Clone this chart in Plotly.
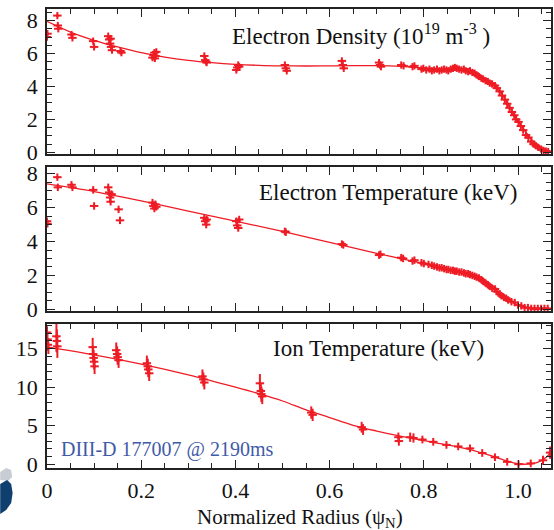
import plotly.graph_objects as go

# ---------------- data ----------------
# Electron density (10^19 m^-3)
ne_x = [0.000, 0.001, 0.022, 0.023, 0.024, 0.052, 0.054, 0.098, 0.100,
        0.130, 0.132, 0.134, 0.135, 0.136, 0.138, 0.156, 0.158,
        0.224, 0.226, 0.228, 0.229, 0.230, 0.232, 0.334, 0.336, 0.338, 0.339,
        0.402, 0.404, 0.406, 0.408, 0.505, 0.507, 0.509, 0.626, 0.628, 0.630,
        0.705, 0.707, 0.709, 0.752, 0.757, 0.776, 0.780, 0.795, 0.799,
        0.805, 0.812, 0.817, 0.822, 0.828, 0.833, 0.838, 0.843, 0.848, 0.852,
        0.857, 0.862, 0.866, 0.870, 0.875, 0.880, 0.885, 0.889, 0.894, 0.898,
        0.903, 0.908, 0.912, 0.917, 0.922, 0.926, 0.931, 0.936, 0.940, 0.945,
        0.951, 0.955, 0.961, 0.966, 0.972, 0.977, 0.982, 0.987, 0.992, 0.996,
        1.001, 1.006, 1.011, 1.017, 1.022, 1.028, 1.033, 1.038, 1.043, 1.049,
        1.054, 1.059, 1.064]
ne_y = [7.00, 7.20, 8.30, 7.70, 7.50, 7.15, 6.95, 6.75, 6.40,
        7.05, 6.85, 6.60, 6.90, 6.40, 6.20, 6.15, 6.05,
        5.75, 5.90, 6.05, 5.70, 5.85, 6.10, 5.85, 5.60, 5.50, 5.45,
        5.00, 5.15, 5.30, 5.20, 5.30, 5.10, 4.95, 5.55, 5.30, 5.10,
        5.45, 5.30, 5.20, 5.30, 5.25, 5.20, 5.25, 5.05, 5.10,
        5.00, 5.05, 4.95, 5.00, 5.05, 4.95, 5.00, 5.05, 5.00, 4.95,
        5.05, 5.10, 5.15, 5.10, 5.05, 5.00, 5.05, 4.95, 4.90, 4.95,
        4.85, 4.80, 4.70, 4.60, 4.50, 4.45, 4.35, 4.30, 4.20, 4.15,
        4.05, 3.90, 3.70, 3.45, 3.20, 2.95, 2.70, 2.45, 2.25, 2.00,
        1.85, 1.60, 1.35, 1.05, 0.90, 0.65, 0.50, 0.40, 0.30, 0.20,
        0.12, 0.08, 0.05]

ne_fit_x = [0.00, 0.05, 0.10, 0.15, 0.20, 0.25, 0.30, 0.35, 0.40, 0.45,
            0.50, 0.55, 0.60, 0.65, 0.70, 0.75, 0.80, 0.85, 0.90, 0.92,
            0.94, 0.96, 0.98, 1.00, 1.02, 1.04, 1.06, 1.07]
ne_fit_y = [7.95, 7.30, 6.80, 6.40, 6.05, 5.78, 5.58, 5.44, 5.34, 5.28,
            5.25, 5.24, 5.25, 5.26, 5.26, 5.22, 5.12, 5.05, 4.90, 4.65,
            4.30, 3.75, 2.85, 1.90, 1.10, 0.45, 0.12, 0.05]

# Electron temperature (keV)
te_x = [0.000, 0.001, 0.022, 0.023, 0.052, 0.054, 0.098, 0.100,
        0.130, 0.132, 0.134, 0.135, 0.137, 0.152, 0.155,
        0.224, 0.226, 0.228, 0.230, 0.232, 0.334, 0.336, 0.338, 0.339,
        0.402, 0.404, 0.406, 0.408, 0.505, 0.507, 0.626, 0.629,
        0.705, 0.708, 0.752, 0.756, 0.776, 0.780, 0.795, 0.800,
        0.810, 0.817, 0.822, 0.828, 0.833, 0.838, 0.843, 0.848, 0.852,
        0.857, 0.862, 0.866, 0.870, 0.875, 0.880, 0.885, 0.889, 0.894,
        0.898, 0.903, 0.908, 0.912, 0.917, 0.922, 0.926, 0.931, 0.936,
        0.940, 0.945, 0.951, 0.955, 0.961, 0.965, 0.970, 0.975, 0.979,
        0.986, 0.993, 1.000, 1.007, 1.014, 1.021, 1.028, 1.035, 1.042,
        1.049, 1.056, 1.063]
te_y = [5.20, 5.05, 7.80, 7.20, 7.35, 7.20, 7.05, 6.10,
        7.20, 6.90, 6.60, 6.35, 6.80, 5.90, 5.25,
        6.30, 6.10, 5.95, 6.20, 6.05, 5.40, 5.20, 5.00, 5.30,
        5.20, 4.95, 4.80, 5.30, 4.60, 4.55, 3.85, 3.80,
        3.20, 3.25, 3.05, 3.00, 2.85, 2.90, 2.75, 2.70,
        2.65, 2.60, 2.55, 2.50, 2.45, 2.45, 2.40, 2.35, 2.35,
        2.30, 2.30, 2.25, 2.25, 2.20, 2.20, 2.15, 2.10, 2.10,
        2.05, 2.00, 1.95, 1.90, 1.85, 1.75, 1.65, 1.55, 1.45,
        1.35, 1.25, 1.20, 1.05, 0.90, 0.80, 0.70, 0.65, 0.55,
        0.45, 0.40, 0.25, 0.20, 0.10, 0.10, 0.05, 0.05, 0.05,
        0.05, 0.05, 0.05]

te_fit_x = [0.00, 0.10, 0.20, 0.30, 0.40, 0.50, 0.60, 0.70, 0.75, 0.80,
            0.85, 0.90, 0.92, 0.94, 0.96, 0.98, 1.00, 1.02, 1.04, 1.07]
te_fit_y = [7.40, 6.95, 6.40, 5.80, 5.20, 4.60, 3.95, 3.30, 3.00, 2.70,
            2.40, 2.05, 1.80, 1.40, 0.95, 0.55, 0.25, 0.05, 0.00, 0.00]

# Ion temperature (keV)
ti_x = [0.000, 0.001, 0.002, 0.003, 0.020, 0.021, 0.022,
        0.097, 0.098, 0.099, 0.100, 0.101,
        0.147, 0.149, 0.150, 0.152,
        0.212, 0.214, 0.215, 0.217,
        0.330, 0.332, 0.334,
        0.452, 0.454, 0.455, 0.457,
        0.561, 0.564, 0.668, 0.671,
        0.746, 0.747, 0.771, 0.778, 0.797, 0.820, 0.848, 0.873, 0.898,
        0.924, 0.951, 0.977, 1.001, 1.027, 1.053, 1.068]
ti_y = [17.1, 16.2, 15.5, 15.1, 16.6, 16.0, 15.3,
        15.2, 14.3, 13.8, 13.3, 12.7,
        14.8, 14.3, 13.9, 13.5,
        13.1, 12.7, 12.3, 11.8,
        11.4, 11.0, 10.6,
        10.5, 9.5, 9.1, 8.8,
        6.7, 6.4, 4.8, 4.5,
        3.5, 3.0, 3.5, 3.4, 3.2, 2.9, 2.5, 2.3, 2.05,
        1.45, 0.9, 0.3, 0.0, 0.1, 0.5, 1.5]
ti_err = [0.8, 0.8, 0.8, 0.8, 2.0, 1.5, 1.5,
          1.2, 1.0, 1.0, 1.0, 1.0,
          1.0, 1.0, 1.0, 1.0,
          1.0, 1.0, 1.0, 1.0,
          0.9, 0.9, 0.9,
          1.2, 1.0, 1.0, 1.0,
          0.8, 0.8, 0.7, 0.7,
          0.6, 0.6, 0.6, 0.6, 0.5, 0.5, 0.5, 0.5, 0.5,
          0.5, 0.5, 0.5, 0.5, 0.5, 0.6, 0.8]

ti_fit_x = [0.00, 0.10, 0.20, 0.30, 0.40, 0.45, 0.50, 0.55, 0.60, 0.65,
            0.70, 0.75, 0.80, 0.85, 0.90, 0.95, 0.98, 1.00, 1.02, 1.04,
            1.06, 1.07]
ti_fit_y = [15.2, 14.2, 13.0, 11.6, 10.0, 9.15, 8.2, 7.05, 6.05, 5.05,
            4.30, 3.65, 3.05, 2.50, 1.85, 0.95, 0.35, 0.05, 0.00, 0.20,
            0.90, 1.60]

x_tick_vals = [0.0, 0.2, 0.4, 0.6, 0.8, 1.0]
x_tick_text = ["0", "0.2", "0.4", "0.6", "0.8", "1.0"]

panel_titles = ["Electron Density (10<sup>19</sup> m<sup>-3</sup> )",
                "Electron Temperature (keV)",
                "Ion Temperature (keV)"]
shot_label = "DIII-D 177007 @ 2190ms"
x_title = "Normalized Radius (\u03c8<sub>N</sub>)"

# ---------------- style ----------------
RED = "#EE1C25"
FONT = "Liberation Serif"
W, H = 554, 530
ML, MR, MT, MB = 47, 1, 9, 62
PW, PH = W - ML - MR, H - MT - MB


def px(xpix):
    return (xpix - ML) / PW


def py(ypix):
    return (H - MB - ypix) / PH


fig = go.Figure()


def add_panel(row, xs, ys, ex, ey, fx, fy):
    xa = "x" if row == 1 else f"x{row}"
    ya = "y" if row == 1 else f"y{row}"
    ey_spec = dict(type="data", array=ey, visible=True) if isinstance(ey, list) \
        else dict(type="constant", value=ey, visible=True)
    ey_spec.update(width=0, thickness=2, color=RED)
    fig.add_trace(go.Scatter(
        x=fx, y=fy, mode="lines", line=dict(color=RED, width=1.3, shape="spline"),
        xaxis=xa, yaxis=ya, showlegend=False, hoverinfo="skip"))
    fig.add_trace(go.Scatter(
        x=xs, y=ys, mode="markers",
        marker=dict(color=RED, size=3),
        error_x=dict(type="constant", value=ex, width=0, thickness=2, color=RED),
        error_y=ey_spec,
        xaxis=xa, yaxis=ya, showlegend=False))


add_panel(1, ne_x, ne_y, 0.009, 0.22, ne_fit_x, ne_fit_y)
add_panel(2, te_x, te_y, 0.009, 0.22, te_fit_x, te_fit_y)
add_panel(3, ti_x, ti_y, 0.009, ti_err, ti_fit_x, ti_fit_y)

domains = [[py(154), 1.0], [py(311), py(167)], [0.0, py(324)]]
y_ranges = [[-0.1, 8.7], [-0.1, 8.4], [-0.5, 18.2]]
y_dticks = [2, 2, 5]
y_minor = [0.5, 0.5, 1]

axis_common = dict(
    showline=True, linecolor="#222", linewidth=1.5, mirror="ticks",
    ticks="inside", ticklen=8, tickwidth=1.2, tickcolor="#222",
    showgrid=False, zeroline=False,
    tickfont=dict(family=FONT, size=22, color="#111"),
)

layout = dict(
    width=W, height=H,
    margin=dict(l=ML, r=MR, t=MT, b=MB),
    paper_bgcolor="white", plot_bgcolor="white",
    showlegend=False,
)

for i in range(3):
    xk = "xaxis" if i == 0 else f"xaxis{i + 1}"
    yk = "yaxis" if i == 0 else f"yaxis{i + 1}"
    xanchor = "y" if i == 0 else f"y{i + 1}"
    yanchor = "x" if i == 0 else f"x{i + 1}"
    layout[xk] = dict(
        axis_common, domain=[0, 1], range=[0, 1.07], anchor=xanchor,
        tickmode="array", tickvals=x_tick_vals, ticktext=x_tick_text,
        showticklabels=(i == 2), ticklabelstandoff=2,
        minor=dict(ticks="inside", ticklen=5, dtick=0.05, tick0=0,
                   tickcolor="#222", tickwidth=1),
    )
    layout[yk] = dict(
        axis_common, domain=domains[i], range=y_ranges[i], anchor=yanchor,
        tick0=0, dtick=y_dticks[i], ticklabelstandoff=3,
        minor=dict(ticks="inside", ticklen=5, dtick=y_minor[i], tick0=0,
                   tickcolor="#222", tickwidth=1),
    )

fig.update_layout(**layout)

title_pos = [(231, 35), (258, 192), (272, 348)]
for txt, (tx, ty) in zip(panel_titles, title_pos):
    fig.add_annotation(text=txt, x=px(tx), y=py(ty), xref="paper", yref="paper",
                       xanchor="left", yanchor="middle", showarrow=False,
                       font=dict(family=FONT, size=23, color="#111"))

fig.add_annotation(text=shot_label, x=px(59), y=py(449), xref="paper", yref="paper",
                   xanchor="left", yanchor="middle", showarrow=False,
                   font=dict(family=FONT, size=20, color="#3F5AA8"))

fig.add_annotation(text=x_title, x=px(301), y=py(517.5), xref="paper", yref="paper",
                   xanchor="center", yanchor="middle", showarrow=False,
                   font=dict(family=FONT, size=21, color="#111"))


# partial logo in the lower-left corner
def path(pts):
    return "M " + " L ".join(f"{px(a):.4f},{py(b):.4f}" for a, b in pts) + " Z"


fig.add_shape(type="path", xref="paper", yref="paper", layer="above",
              path=path([(0, 472), (6, 468), (11, 470), (12, 477), (8, 481), (0, 480)]),
              fillcolor="#C8CDD3", line=dict(width=0))
fig.add_shape(type="path", xref="paper", yref="paper", layer="above",
              path=path([(0, 484), (7, 480), (11, 484), (12.5, 493), (11, 503),
                         (6, 510), (0, 514)]),
              fillcolor="#0E3F6E", line=dict(width=0))

fig.write_html("out.html")
